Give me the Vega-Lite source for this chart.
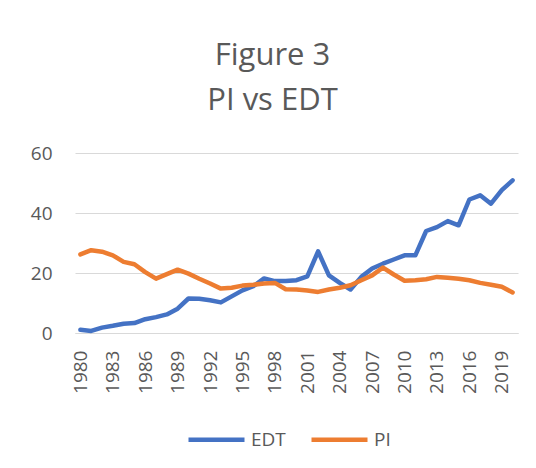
{
  "$schema": "https://vega.github.io/schema/vega-lite/v6.json",
  "autosize": {"type": "none"},
  "width": 443,
  "height": 180,
  "padding": {"left": 75, "top": 153, "right": 18, "bottom": 135},
  "background": "white",
  "config": {
    "font": "Open Sans",
    "view": {"stroke": null}
  },
  "title": {
    "text": ["Figure 3", "PI vs EDT"],
    "fontSize": 31,
    "fontWeight": "normal",
    "color": "#595959",
    "lineHeight": 45,
    "anchor": "middle",
    "dx": -24,
    "baseline": "alphabetic",
    "offset": 3
  },
  "data": {
    "values": [
      {"year": 1980, "series": "EDT", "value": 1.1},
      {"year": 1981, "series": "EDT", "value": 0.7},
      {"year": 1982, "series": "EDT", "value": 1.8},
      {"year": 1983, "series": "EDT", "value": 2.4},
      {"year": 1984, "series": "EDT", "value": 3.1},
      {"year": 1985, "series": "EDT", "value": 3.3},
      {"year": 1986, "series": "EDT", "value": 4.6},
      {"year": 1987, "series": "EDT", "value": 5.3},
      {"year": 1988, "series": "EDT", "value": 6.2},
      {"year": 1989, "series": "EDT", "value": 8.1},
      {"year": 1990, "series": "EDT", "value": 11.5},
      {"year": 1991, "series": "EDT", "value": 11.4},
      {"year": 1992, "series": "EDT", "value": 10.9},
      {"year": 1993, "series": "EDT", "value": 10.2},
      {"year": 1994, "series": "EDT", "value": 12.2},
      {"year": 1995, "series": "EDT", "value": 14.2},
      {"year": 1996, "series": "EDT", "value": 15.6},
      {"year": 1997, "series": "EDT", "value": 18.2},
      {"year": 1998, "series": "EDT", "value": 17.3},
      {"year": 1999, "series": "EDT", "value": 17.3},
      {"year": 2000, "series": "EDT", "value": 17.6},
      {"year": 2001, "series": "EDT", "value": 18.9},
      {"year": 2002, "series": "EDT", "value": 27.2},
      {"year": 2003, "series": "EDT", "value": 19.2},
      {"year": 2004, "series": "EDT", "value": 16.7},
      {"year": 2005, "series": "EDT", "value": 14.5},
      {"year": 2006, "series": "EDT", "value": 18.7},
      {"year": 2007, "series": "EDT", "value": 21.5},
      {"year": 2008, "series": "EDT", "value": 23.1},
      {"year": 2009, "series": "EDT", "value": 24.5},
      {"year": 2010, "series": "EDT", "value": 25.9},
      {"year": 2011, "series": "EDT", "value": 25.9},
      {"year": 2012, "series": "EDT", "value": 34.0},
      {"year": 2013, "series": "EDT", "value": 35.3},
      {"year": 2014, "series": "EDT", "value": 37.3},
      {"year": 2015, "series": "EDT", "value": 35.9},
      {"year": 2016, "series": "EDT", "value": 44.5},
      {"year": 2017, "series": "EDT", "value": 45.9},
      {"year": 2018, "series": "EDT", "value": 43.1},
      {"year": 2019, "series": "EDT", "value": 47.6},
      {"year": 2020, "series": "EDT", "value": 50.9},
      {"year": 1980, "series": "PI", "value": 26.2},
      {"year": 1981, "series": "PI", "value": 27.6},
      {"year": 1982, "series": "PI", "value": 27.1},
      {"year": 1983, "series": "PI", "value": 25.9},
      {"year": 1984, "series": "PI", "value": 23.7},
      {"year": 1985, "series": "PI", "value": 22.9},
      {"year": 1986, "series": "PI", "value": 20.3},
      {"year": 1987, "series": "PI", "value": 18.1},
      {"year": 1988, "series": "PI", "value": 19.6},
      {"year": 1989, "series": "PI", "value": 21.1},
      {"year": 1990, "series": "PI", "value": 19.8},
      {"year": 1991, "series": "PI", "value": 18.1},
      {"year": 1992, "series": "PI", "value": 16.5},
      {"year": 1993, "series": "PI", "value": 14.8},
      {"year": 1994, "series": "PI", "value": 15.1},
      {"year": 1995, "series": "PI", "value": 15.8},
      {"year": 1996, "series": "PI", "value": 16.1},
      {"year": 1997, "series": "PI", "value": 16.5},
      {"year": 1998, "series": "PI", "value": 16.7},
      {"year": 1999, "series": "PI", "value": 14.6},
      {"year": 2000, "series": "PI", "value": 14.5},
      {"year": 2001, "series": "PI", "value": 14.2},
      {"year": 2002, "series": "PI", "value": 13.7},
      {"year": 2003, "series": "PI", "value": 14.5},
      {"year": 2004, "series": "PI", "value": 15.1},
      {"year": 2005, "series": "PI", "value": 15.9},
      {"year": 2006, "series": "PI", "value": 17.6},
      {"year": 2007, "series": "PI", "value": 19.2},
      {"year": 2008, "series": "PI", "value": 21.8},
      {"year": 2009, "series": "PI", "value": 19.5},
      {"year": 2010, "series": "PI", "value": 17.4},
      {"year": 2011, "series": "PI", "value": 17.6},
      {"year": 2012, "series": "PI", "value": 17.9},
      {"year": 2013, "series": "PI", "value": 18.7},
      {"year": 2014, "series": "PI", "value": 18.4},
      {"year": 2015, "series": "PI", "value": 18.1},
      {"year": 2016, "series": "PI", "value": 17.6},
      {"year": 2017, "series": "PI", "value": 16.7},
      {"year": 2018, "series": "PI", "value": 16.1},
      {"year": 2019, "series": "PI", "value": 15.4},
      {"year": 2020, "series": "PI", "value": 13.5}
    ]
  },
  "mark": {"type": "line", "strokeWidth": 4.5, "strokeCap": "round", "strokeJoin": "round"},
  "encoding": {
    "x": {
      "field": "year",
      "type": "ordinal",
      "scale": {"type": "point", "padding": 0.5},
      "axis": {
        "title": null,
        "values": [1980, 1983, 1986, 1989, 1992, 1995, 1998, 2001, 2004, 2007, 2010, 2013, 2016, 2019],
        "labelAngle": -90,
        "labelFontSize": 19,
        "labelColor": "#595959",
        "labelPadding": 17,
        "ticks": false,
        "domain": true,
        "domainColor": "#D9D9D9",
        "domainWidth": 1,
        "grid": false
      }
    },
    "y": {
      "field": "value",
      "type": "quantitative",
      "scale": {"domain": [0, 60]},
      "axis": {
        "title": null,
        "values": [0, 20, 40, 60],
        "labelFontSize": 19,
        "labelColor": "#595959",
        "labelPadding": 23,
        "ticks": false,
        "domain": false,
        "grid": true,
        "gridColor": "#D9D9D9",
        "gridWidth": 1
      }
    },
    "color": {
      "field": "series",
      "type": "nominal",
      "scale": {"domain": ["EDT", "PI"], "range": ["#4472C4", "#ED7D31"]},
      "legend": {
        "title": null,
        "orient": "none",
        "direction": "horizontal",
        "legendX": 111,
        "legendY": 256,
        "padding": 0,
        "symbolType": "stroke",
        "symbolSize": 3136,
        "symbolStrokeWidth": 4.5,
        "labelFontSize": 19,
        "labelColor": "#595959",
        "labelOffset": 4,
        "columnPadding": 16
      }
    }
  }
}
